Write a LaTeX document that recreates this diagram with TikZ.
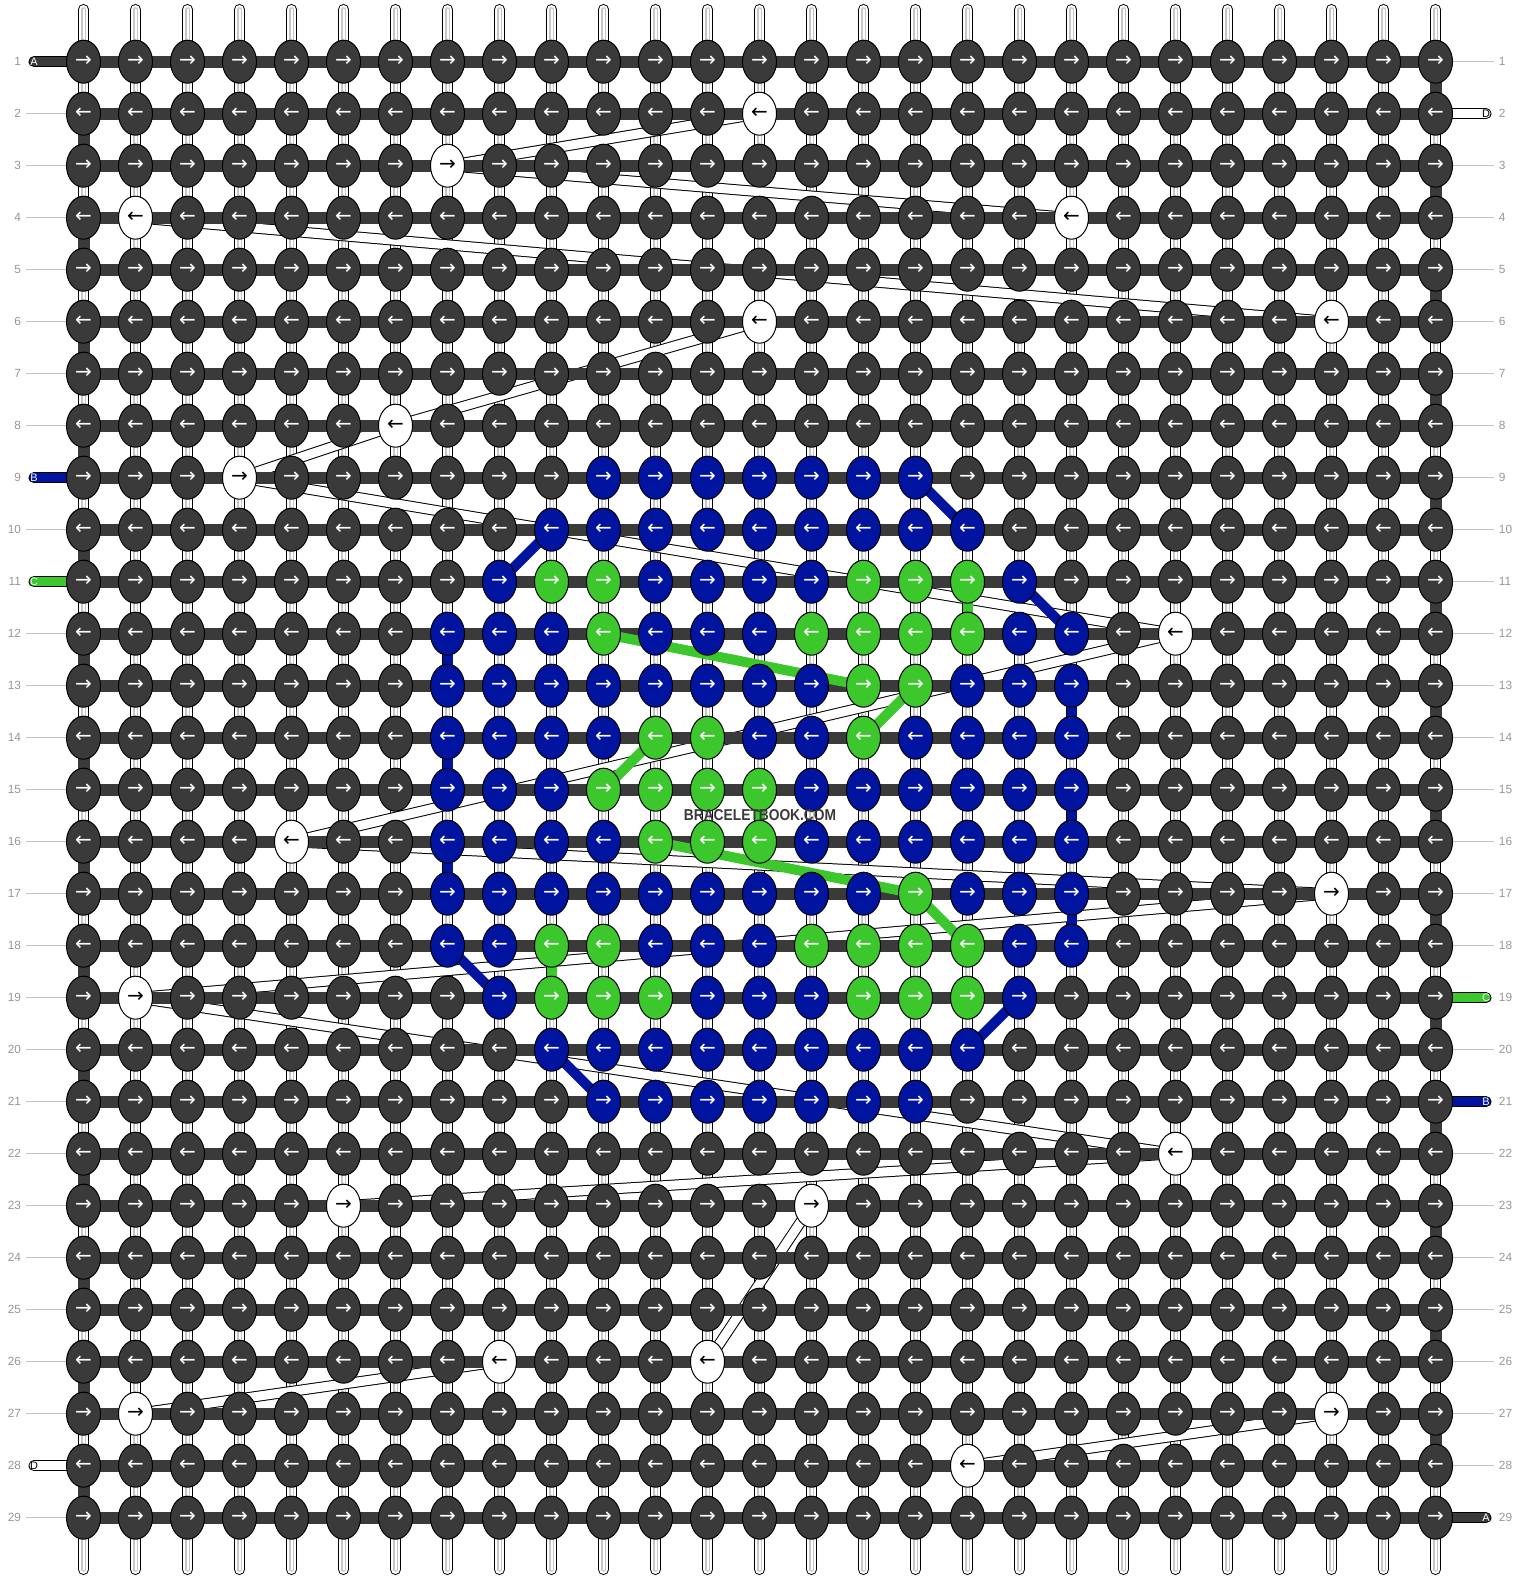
\documentclass[tikz,border=0pt]{standalone}
\usepackage{fontspec}
\setmainfont{Liberation Sans}
\newfontfamily\arrowfont{DejaVu Sans}
\usetikzlibrary{positioning,shapes.geometric}
\pgfdeclarelayer{strings}
\pgfsetlayers{strings,main}

\definecolor{threadA}{RGB}{58,58,58}
\definecolor{threadB}{RGB}{0,20,160}
\definecolor{threadC}{RGB}{60,200,45}
\definecolor{threadD}{RGB}{255,255,255}
\definecolor{rowgray}{RGB}{150,150,150}

\tikzset{
    knot/.style={ellipse, draw=black, line width=0.75pt, minimum width=25.5pt, minimum height=32.25pt, inner sep=0pt, font=\arrowfont\fontsize{15}{15}\selectfont},
    tA/.style={fill=threadA, text=white},
    tB/.style={fill=threadB, text=white},
    tC/.style={fill=threadC, text=white},
    tD/.style={fill=threadD, text=black},
    warp/.style={white, line width=6.75pt, line cap=round, preaction={draw=black, line width=8.25pt, line cap=round}, postaction={draw=gray!45, line width=3.4pt}, postaction={draw=white, line width=1.5pt}},
    dstrip/.style={draw=black, line width=0.75pt, double=white, double distance=6.75pt},
    bar/.style={draw=threadA, line width=9pt},
    carry/.style={line width=7.5pt},
    tend/.style={line width=6.75pt, line cap=round, preaction={draw=black, line width=8.25pt, line cap=round}},
    endtext/.style={font=\fontsize{8.2}{8.2}\selectfont, inner sep=0pt},
    rowlabel/.style={text=rowgray, font=\fontsize{8.9}{9}\selectfont, inner xsep=3.5pt, inner ysep=0pt},
    labline/.style={draw=gray!50, line width=0.75pt}
}

\begin{document}
\begin{tikzpicture}[x=0.75pt, y=-0.75pt]
    \useasboundingbox (0,0) rectangle (1520,1580);

    \foreach \pat [count=\r] in {
        {A,A,A,A,A, A,A,A,A,A, A,A,A,A,A, A,A,A,A,A, A,A,A,A,A, A,A},
        {A,A,A,A,A, A,A,A,A,A, A,A,A,D,A, A,A,A,A,A, A,A,A,A,A, A,A},
        {A,A,A,A,A, A,A,D,A,A, A,A,A,A,A, A,A,A,A,A, A,A,A,A,A, A,A},
        {A,D,A,A,A, A,A,A,A,A, A,A,A,A,A, A,A,A,A,D, A,A,A,A,A, A,A},
        {A,A,A,A,A, A,A,A,A,A, A,A,A,A,A, A,A,A,A,A, A,A,A,A,A, A,A},
        {A,A,A,A,A, A,A,A,A,A, A,A,A,D,A, A,A,A,A,A, A,A,A,A,D, A,A},
        {A,A,A,A,A, A,A,A,A,A, A,A,A,A,A, A,A,A,A,A, A,A,A,A,A, A,A},
        {A,A,A,A,A, A,D,A,A,A, A,A,A,A,A, A,A,A,A,A, A,A,A,A,A, A,A},
        {A,A,A,D,A, A,A,A,A,A, B,B,B,B,B, B,B,A,A,A, A,A,A,A,A, A,A},
        {A,A,A,A,A, A,A,A,A,B, B,B,B,B,B, B,B,B,A,A, A,A,A,A,A, A,A},
        {A,A,A,A,A, A,A,A,B,C, C,B,B,B,B, C,C,C,B,A, A,A,A,A,A, A,A},
        {A,A,A,A,A, A,A,B,B,B, C,B,B,B,C, C,C,C,B,B, A,D,A,A,A, A,A},
        {A,A,A,A,A, A,A,B,B,B, B,B,B,B,B, C,C,B,B,B, A,A,A,A,A, A,A},
        {A,A,A,A,A, A,A,B,B,B, B,C,C,B,B, C,B,B,B,B, A,A,A,A,A, A,A},
        {A,A,A,A,A, A,A,B,B,B, C,C,C,C,B, B,B,B,B,B, A,A,A,A,A, A,A},
        {A,A,A,A,D, A,A,B,B,B, B,C,C,C,B, B,B,B,B,B, A,A,A,A,A, A,A},
        {A,A,A,A,A, A,A,B,B,B, B,B,B,B,B, B,C,B,B,B, A,A,A,A,D, A,A},
        {A,A,A,A,A, A,A,B,B,C, C,B,B,B,C, C,C,C,B,B, A,A,A,A,A, A,A},
        {A,D,A,A,A, A,A,A,B,C, C,C,B,B,B, C,C,C,B,A, A,A,A,A,A, A,A},
        {A,A,A,A,A, A,A,A,A,B, B,B,B,B,B, B,B,B,A,A, A,A,A,A,A, A,A},
        {A,A,A,A,A, A,A,A,A,A, B,B,B,B,B, B,B,A,A,A, A,A,A,A,A, A,A},
        {A,A,A,A,A, A,A,A,A,A, A,A,A,A,A, A,A,A,A,A, A,D,A,A,A, A,A},
        {A,A,A,A,A, D,A,A,A,A, A,A,A,A,D, A,A,A,A,A, A,A,A,A,A, A,A},
        {A,A,A,A,A, A,A,A,A,A, A,A,A,A,A, A,A,A,A,A, A,A,A,A,A, A,A},
        {A,A,A,A,A, A,A,A,A,A, A,A,A,A,A, A,A,A,A,A, A,A,A,A,A, A,A},
        {A,A,A,A,A, A,A,A,D,A, A,A,D,A,A, A,A,A,A,A, A,A,A,A,A, A,A},
        {A,D,A,A,A, A,A,A,A,A, A,A,A,A,A, A,A,A,A,A, A,A,A,A,D, A,A},
        {A,A,A,A,A, A,A,A,A,A, A,A,A,A,A, A,A,D,A,A, A,A,A,A,A, A,A},
        {A,A,A,A,A, A,A,A,A,A, A,A,A,A,A, A,A,A,A,A, A,A,A,A,A, A,A}}{
        \foreach \k [count=\c] in \pat {
            \node[knot, t\k] (k\r-\c) at ({83.5+52*(\c-1)}, {61.7+52*(\r-1)}) {\ifodd\r →\else ←\fi};
        }
    }

    \foreach \r in {1,...,29} {
        \node[rowlabel, anchor=east] (labL\r) at (26, {61.7+52*(\r-1)}) {\r};
        \node[rowlabel, anchor=west] (labR\r) at (1494, {61.7+52*(\r-1)}) {\r};
    }

    \node[endtext, text=white] (endA1) at (34, 61.7) {A};
    \node[endtext, text=white] (endB9) at (34, 477.7) {B};
    \node[endtext, text=white] (endC11) at (34, 581.7) {C};
    \node[endtext, text=black] (endD28) at (34, 1465.7) {D};
    \node[endtext, text=black] (endD2) at (1486, 113.7) {D};
    \node[endtext, text=white] (endC19) at (1486, 997.7) {C};
    \node[endtext, text=white] (endB21) at (1486, 1101.7) {B};
    \node[endtext, text=white] (endA29) at (1486, 1517.7) {A};

    \node[text=threadA, font=\bfseries\fontsize{11.8}{12}\selectfont] (logo) at (760, 815) {\scalebox{0.875}[1]{BRACELETBOOK.COM}};

    \begin{pgfonlayer}{strings}
        \foreach \c in {1,...,27} {
            \coordinate (top\c) at ({83.5+52*(\c-1)}, 9.5);
            \coordinate (bot\c) at ({83.5+52*(\c-1)}, 1569.5);
            \draw[warp] (top\c) -- (bot\c);
        }
        \foreach \a/\b in {2-14/3-8, 3-8/4-20, 4-2/6-25, 6-14/8-7, 8-7/9-4, 9-4/12-22, 12-22/16-5, 16-5/17-25, 17-25/19-2, 19-2/22-22, 22-22/23-6, 23-15/26-13, 26-9/27-2, 27-25/28-18}
            \draw[dstrip] (k\a.center) -- (k\b.center);
        \foreach \r in {1,...,29}
            \draw[bar] (k\r-1.center) -- (k\r-27.center);
        \foreach \r [evaluate=\r as \s using int(\r+1)] in {2,4,...,28}
            \draw[bar] (k\r-1.center) -- (k\s-1.center);
        \foreach \r [evaluate=\r as \s using int(\r+1)] in {1,3,...,27}
            \draw[bar] (k\r-27.center) -- (k\s-27.center);
        \foreach \a/\b in {9-17/10-18, 10-10/11-9, 11-19/12-20, 18-8/19-9, 19-19/20-18, 20-10/21-11, 12-8/13-8, 14-8/15-8, 16-8/17-8, 13-20/14-20, 15-20/16-20, 17-20/18-20}
            \draw[carry, threadB] (k\a.center) -- (k\b.center);
        \foreach \a/\b in {11-18/12-18, 12-11/13-16, 13-17/14-16, 14-12/15-11, 15-14/16-14, 16-12/17-17, 17-17/18-18, 18-10/19-10}
            \draw[carry, threadC] (k\a.center) -- (k\b.center);
        \draw[tend, threadA] (endA1.center) -- (k1-1.center);
        \draw[tend, threadB] (endB9.center) -- (k9-1.center);
        \draw[tend, threadC] (endC11.center) -- (k11-1.center);
        \draw[tend, threadD] (endD28.center) -- (k28-1.center);
        \draw[tend, threadD] (k2-27.center) -- (endD2.center);
        \draw[tend, threadC] (k19-27.center) -- (endC19.center);
        \draw[tend, threadB] (k21-27.center) -- (endB21.center);
        \draw[tend, threadA] (k29-27.center) -- (endA29.center);
        \foreach \r in {2,...,8,10,12,13,...,27,29}
            \draw[labline] (labL\r) -- (k\r-1);
        \foreach \r in {1,3,4,...,18,20,22,23,...,28}
            \draw[labline] (k\r-27) -- (labR\r);
    \end{pgfonlayer}
\end{tikzpicture}
\end{document}
